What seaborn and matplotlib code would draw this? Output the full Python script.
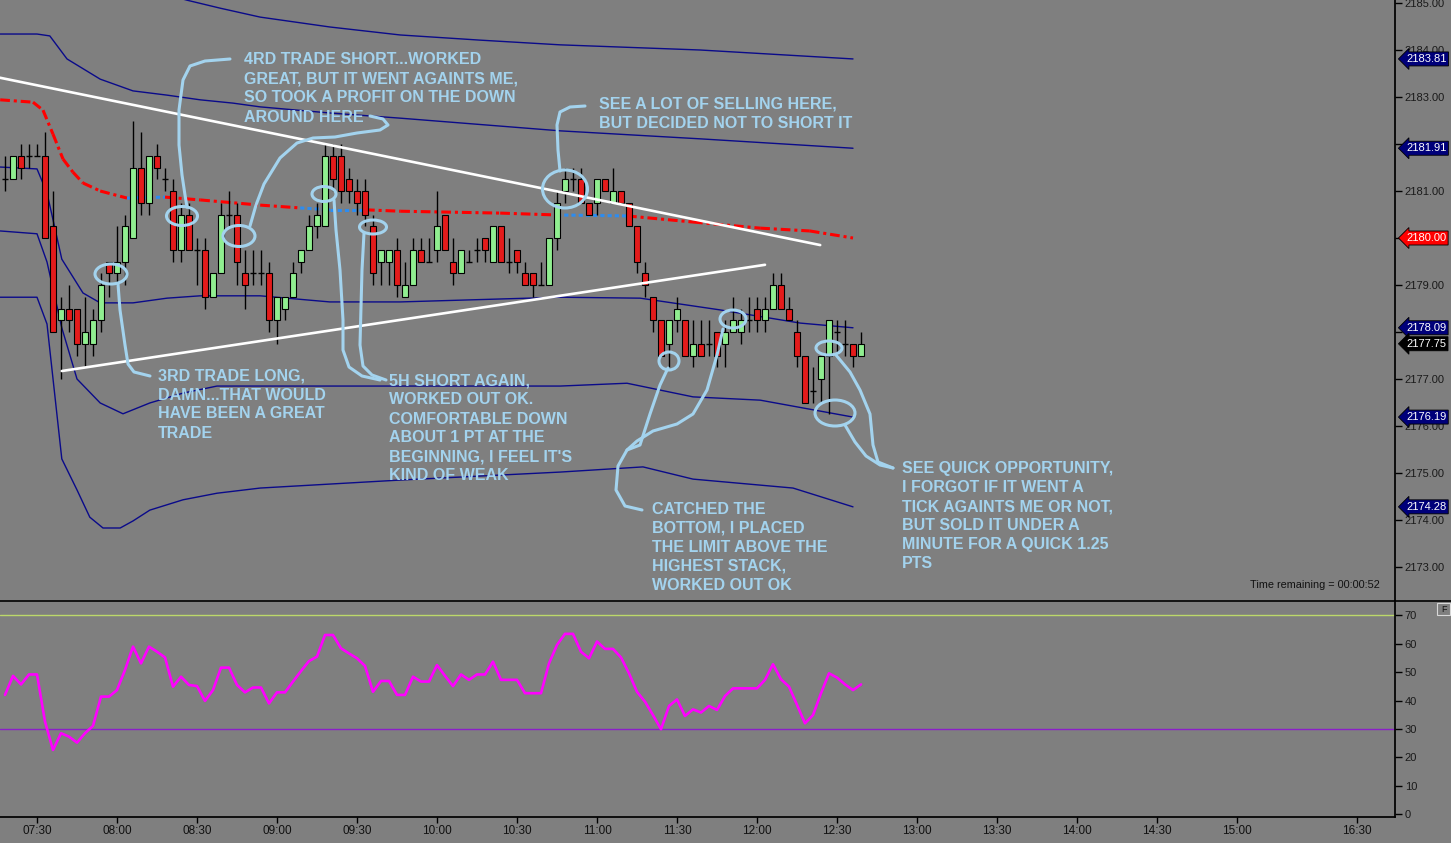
import matplotlib
matplotlib.use("Agg")
import numpy as np
import pandas as pd
import matplotlib.pyplot as plt
import matplotlib.transforms as mtransforms
from matplotlib.patches import Ellipse, Rectangle
import seaborn as sns

# ---------------- data (3-minute bars, bar 0 = 07:18) ----------------
opens = [2181.25, 2181.25, 2181.75, 2181.75, 2181.75, 2181.75, 2180.25, 2178.25, 2178.5, 2178.5,
         2177.75, 2177.75, 2178.25, 2179.5, 2179.25, 2179.5, 2180.0, 2181.5, 2180.75, 2181.75,
         2181.25, 2181.0, 2179.75, 2180.5, 2179.75, 2179.75, 2178.75, 2179.25, 2180.5, 2180.5,
         2179.25, 2179.25, 2179.25, 2179.25, 2178.25, 2178.5, 2178.75, 2179.5, 2179.75, 2180.25,
         2180.25, 2181.75, 2181.75, 2181.25, 2181.0, 2181.0, 2180.25, 2179.5, 2179.5, 2179.75,
         2178.75, 2179.0, 2179.75, 2179.5, 2179.75, 2180.5, 2179.5, 2179.25, 2179.5, 2179.75,
         2180.0, 2179.5, 2180.25, 2179.5, 2179.75, 2179.25, 2179.25, 2179.0, 2179.0, 2180.0,
         2181.0, 2181.25, 2181.25, 2180.75, 2180.75, 2181.25, 2180.75, 2181.0, 2180.75, 2180.25,
         2179.25, 2178.75, 2178.25, 2177.75, 2178.25, 2178.25, 2177.5, 2177.75, 2177.75, 2178.0,
         2177.75, 2178.0, 2178.0, 2178.25, 2178.5, 2178.25, 2178.5, 2179.0, 2178.5, 2178.0,
         2177.5, 2176.75, 2177.0, 2177.5, 2178.0, 2177.75, 2177.75, 2177.5]
highs = [2181.75, 2181.75, 2182.0, 2182.0, 2182.0, 2182.25, 2181.0, 2178.75, 2179.0, 2178.5,
         2178.75, 2178.5, 2179.25, 2179.5, 2180.25, 2180.5, 2182.5, 2182.25, 2181.75, 2182.0,
         2181.5, 2181.25, 2180.75, 2180.75, 2180.0, 2180.0, 2179.25, 2180.75, 2181.0, 2180.75,
         2179.75, 2179.75, 2179.75, 2179.5, 2178.75, 2178.75, 2179.5, 2179.75, 2180.5, 2180.75,
         2182.0, 2182.0, 2182.0, 2181.5, 2181.25, 2181.25, 2180.5, 2179.75, 2179.75, 2180.0,
         2179.5, 2180.0, 2180.0, 2180.0, 2181.0, 2180.5, 2180.0, 2179.75, 2179.75, 2180.0,
         2180.0, 2180.25, 2180.25, 2180.0, 2179.75, 2179.5, 2179.25, 2179.5, 2180.0, 2181.0,
         2181.5, 2181.5, 2181.5, 2180.75, 2181.25, 2181.25, 2181.5, 2181.0, 2180.75, 2180.25,
         2179.5, 2178.75, 2178.25, 2178.25, 2178.75, 2178.25, 2178.25, 2178.25, 2178.25, 2178.0,
         2178.25, 2178.75, 2178.5, 2178.75, 2178.75, 2178.75, 2179.25, 2179.25, 2178.75, 2178.25,
         2177.5, 2177.25, 2177.5, 2178.25, 2178.25, 2178.25, 2177.75, 2178.0]
lows = [2181.0, 2181.25, 2181.25, 2181.5, 2181.75, 2180.0, 2178.0, 2177.0, 2178.0, 2177.5,
        2177.25, 2177.5, 2178.0, 2178.75, 2179.0, 2179.0, 2180.0, 2180.5, 2180.5, 2181.25,
        2181.0, 2179.5, 2179.5, 2179.75, 2179.0, 2178.5, 2178.75, 2179.25, 2180.25, 2179.0,
        2178.5, 2179.0, 2179.0, 2178.0, 2177.75, 2178.25, 2178.75, 2179.25, 2179.75, 2180.0,
        2180.25, 2181.0, 2180.75, 2180.75, 2180.5, 2180.25, 2179.0, 2179.0, 2179.0, 2178.75,
        2178.75, 2179.0, 2179.5, 2179.5, 2179.5, 2179.75, 2179.0, 2179.25, 2179.5, 2179.5,
        2179.5, 2179.5, 2179.5, 2179.25, 2179.25, 2179.0, 2178.75, 2179.0, 2179.0, 2179.75,
        2180.75, 2181.0, 2180.75, 2180.5, 2180.5, 2181.0, 2180.75, 2180.75, 2180.25, 2179.25,
        2178.75, 2178.0, 2177.5, 2177.25, 2178.0, 2177.5, 2177.25, 2177.5, 2177.5, 2177.25,
        2177.25, 2178.0, 2177.75, 2178.0, 2178.0, 2178.0, 2178.5, 2178.5, 2178.25, 2177.25,
        2176.5, 2176.5, 2176.5, 2176.25, 2177.5, 2177.5, 2177.25, 2177.5]
closes = [2181.25, 2181.75, 2181.5, 2181.75, 2181.75, 2180.0, 2178.0, 2178.5, 2178.25, 2177.75,
          2178.0, 2178.25, 2179.0, 2179.25, 2179.5, 2180.25, 2181.5, 2180.75, 2181.75, 2181.5,
          2181.25, 2179.75, 2180.5, 2179.75, 2179.75, 2178.75, 2179.25, 2180.5, 2180.5, 2179.5,
          2179.0, 2179.25, 2179.25, 2178.25, 2178.75, 2178.75, 2179.25, 2179.75, 2180.25, 2180.5,
          2181.75, 2181.25, 2181.0, 2181.0, 2180.75, 2180.5, 2179.25, 2179.75, 2179.75, 2179.0,
          2179.0, 2179.75, 2179.5, 2179.5, 2180.25, 2179.75, 2179.25, 2179.75, 2179.5, 2179.75,
          2179.75, 2180.25, 2179.5, 2179.5, 2179.5, 2179.0, 2179.0, 2179.0, 2180.0, 2180.75,
          2181.25, 2181.25, 2180.75, 2180.5, 2181.25, 2181.0, 2181.0, 2180.75, 2180.25, 2179.5,
          2179.0, 2178.25, 2177.5, 2178.25, 2178.5, 2177.5, 2177.75, 2177.5, 2177.75, 2177.5,
          2178.0, 2178.25, 2178.25, 2178.25, 2178.25, 2178.5, 2179.0, 2178.5, 2178.25, 2177.5,
          2176.5, 2176.75, 2177.5, 2178.25, 2178.0, 2177.75, 2177.5, 2177.75]
rsi = [42.0, 48.7, 45.7, 49.2, 49.2, 32.6, 22.6, 28.5, 27.3, 25.2, 28.5, 31.1, 41.4, 41.4, 43.7,
       50.8, 59.0, 53.1, 59.0, 57.2, 55.2, 44.9, 48.4, 45.5, 45.1, 39.9, 43.7, 51.6, 51.6, 45.5,
       42.9, 44.6, 44.6, 39.0, 42.9, 42.9, 46.7, 50.4, 53.9, 55.5, 63.1, 63.1, 58.4, 56.6, 54.9,
       52.2, 43.1, 46.9, 46.9, 42.0, 42.0, 48.4, 46.7, 46.7, 52.5, 48.7, 45.1, 49.2, 47.3, 49.2,
       49.2, 53.7, 47.3, 47.3, 47.3, 42.6, 42.6, 42.6, 53.1, 59.6, 63.5, 63.5, 57.2, 54.9, 60.8,
       58.2, 58.2, 55.2, 49.6, 43.1, 39.6, 34.9, 29.9, 38.1, 40.4, 34.6, 36.9, 35.8, 38.1, 36.7,
       41.6, 44.3, 44.3, 44.3, 44.3, 47.3, 52.8, 47.5, 44.9, 38.5, 32.0, 34.9, 42.6, 49.6, 48.1,
       45.7, 43.7, 45.7]

# band lines (bar index, price)
band_a_k = [-0.6, 11.9, 18.1, 22.75, 26.9, 31.9, 40.6, 49.4, 59.4, 69.4, 86.9, 106]
band_a_p = [2186.34, 2185.60, 2185.28, 2185.06, 2184.89, 2184.70, 2184.49, 2184.32, 2184.21, 2184.11, 2184.0, 2183.81]
band_b_k = [-0.6, 4, 5.6, 7.75, 11.9, 16, 20.25, 24.4, 28.5, 31.9, 40.6, 49.4, 69.4, 86.9, 106]
band_b_p = [2184.34, 2184.34, 2184.30, 2183.81, 2183.38, 2183.13, 2183.04, 2182.94, 2182.87, 2182.79, 2182.66, 2182.55, 2182.28, 2182.11, 2181.91]
band_c_k = [-0.6, 4, 5.25, 7.1, 9.75, 11.9, 16, 20.25, 24.4, 31.9, 40.6, 49.4, 69.4, 79.4, 89.4, 99.4, 106]
band_c_p = [2181.51, 2181.47, 2180.96, 2179.55, 2178.83, 2178.62, 2178.62, 2178.72, 2178.77, 2178.77, 2178.64, 2178.64, 2178.74, 2178.72, 2178.47, 2178.19, 2178.09]
band_d_k = [-0.6, 4, 5.25, 7.1, 9, 11.9, 14.75, 18.1, 22.25, 26.5, 31.9, 49.4, 69.4, 77.75, 86, 94.4, 106]
band_d_p = [2180.15, 2180.09, 2179.49, 2178.09, 2177.0, 2176.49, 2176.26, 2176.49, 2176.70, 2176.85, 2176.85, 2176.85, 2176.85, 2176.91, 2176.62, 2176.55, 2176.19]
band_e_k = [-0.6, 4, 5.25, 7.1, 9, 10.6, 12.25, 14.4, 16, 18.1, 22.25, 26.5, 31.9, 49.4, 69.4, 79.75, 86, 98.5, 106]
band_e_p = [2178.74, 2178.74, 2178.17, 2175.30, 2174.64, 2174.06, 2173.83, 2173.83, 2173.98, 2174.21, 2174.43, 2174.57, 2174.68, 2174.85, 2175.02, 2175.13, 2174.87, 2174.68, 2174.28]

ma_k = [-0.6, 3.5, 4.75, 6, 7.25, 8.5, 9.75, 11.9, 15.25, 20, 24.4, 31.9, 36.9, 40.6, 45, 49.4, 61.9, 69, 77.75, 86, 94.4, 100.6, 106]
ma_p = [2182.94, 2182.89, 2182.72, 2182.21, 2181.68, 2181.40, 2181.17, 2181.0, 2180.85, 2180.87, 2180.81, 2180.70, 2180.64, 2180.60, 2180.60, 2180.57, 2180.53, 2180.49, 2180.47, 2180.34, 2180.21, 2180.15, 2180.0]
ma_blue_spans = [(15.25, 20), (36.9, 45), (69, 77.75)]

trend_upper_k = [-0.625, 101.9]
trend_upper_p = [2183.41, 2179.85]
trend_lower_k = [7.1, 95]
trend_lower_p = [2177.17, 2179.43]

flag_values = [2183.81, 2181.91, 2180.00, 2178.09, 2177.75, 2176.19, 2174.28]
flag_colors = ['#00007a', '#00007a', '#ff0000', '#00007a', '#000000', '#00007a', '#00007a']

price_ticks = [2173, 2174, 2175, 2176, 2177, 2178, 2179, 2180, 2181, 2182, 2183, 2184, 2185]
price_hidden = [2178, 2180, 2182]   # fully covered by the price flags

time_labels = ['07:30', '08:00', '08:30', '09:00', '09:30', '10:00', '10:30', '11:00', '11:30',
               '12:00', '12:30', '13:00', '13:30', '14:00', '14:30', '15:00', '16:30']
time_ticks = [4 + 10 * i for i in range(16)] + [169]

notes = [
    (244, 60, ["4RD TRADE SHORT...WORKED", "GREAT, BUT IT WENT AGAINTS ME,",
               "SO TOOK A PROFIT ON THE DOWN", "AROUND HERE"]),
    (599, 104, ["SEE A LOT OF SELLING HERE,", "BUT DECIDED NOT TO SHORT IT"]),
    (158, 376, ["3RD TRADE LONG,", "DAMN...THAT WOULD", "HAVE BEEN A GREAT", "TRADE"]),
    (389, 381, ["5H SHORT AGAIN,", "WORKED OUT OK.", "COMFORTABLE DOWN", "ABOUT 1 PT AT THE",
                "BEGINNING, I FEEL IT'S", "KIND OF WEAK"]),
    (652, 509, ["CATCHED THE", "BOTTOM, I PLACED", "THE LIMIT ABOVE THE", "HIGHEST STACK,",
                "WORKED OUT OK"]),
    (902, 469, ["SEE QUICK OPPORTUNITY,", "I FORGOT IF IT WENT A", "TICK AGAINTS ME OR NOT,",
                "BUT SOLD IT UNDER A", "MINUTE FOR A QUICK 1.25", "PTS"]),
]
# freehand strokes (pixel coordinates of the drawing layer)
strokes = [
    [(230, 59), (205, 61), (190, 66), (183, 80), (179, 110), (179, 145), (182, 175), (185, 195), (187, 207)],
    [(250, 226), (256, 205), (264, 184), (280, 158), (297, 143), (313, 138), (335, 137), (357, 133),
     (380, 130), (388, 125), (383, 119), (370, 116)],
    [(118, 284), (120, 310), (125, 345), (128, 364), (134, 372), (150, 376)],
    [(334, 200), (336, 230), (340, 270), (343, 320), (343, 350), (349, 367), (362, 376), (380, 380)],
    [(364, 233), (362, 270), (361, 307), (360, 345), (363, 366), (372, 375), (386, 380)],
    [(560, 171), (558, 150), (557, 125), (560, 112), (570, 107), (585, 106)],
    [(668, 368), (660, 385), (650, 414), (640, 445), (627, 450), (618, 466), (616, 490), (625, 506), (642, 510)],
    [(723, 329), (717, 355), (707, 390), (693, 414), (677, 424), (653, 431), (637, 441), (627, 450)],
    [(836, 355), (850, 372), (860, 390), (870, 414), (873, 445), (878, 462), (893, 468)],
    [(845, 425), (855, 442), (866, 456), (880, 465), (893, 468)],
]
loops = [(182, 216, 31, 19), (239, 236, 32, 21), (111, 274, 32, 20), (324, 194, 24, 15),
         (373, 227, 27, 14), (565, 189, 45, 38), (669, 361, 20, 18), (733, 319, 26, 18),
         (829, 348, 26, 14), (835, 413, 40, 26)]

# ---------------- style ----------------
BG = '#7f7f7f'
TXT = '#a3d3ee'
NAVY = '#0a0a8a'
sns.set_theme(style="ticks", rc={"axes.facecolor": BG, "figure.facecolor": BG,
                                 "axes.edgecolor": "black", "lines.scale_dashes": False})
plt.rcParams['font.family'] = ['Liberation Sans', 'DejaVu Sans']
plt.rcParams['lines.scale_dashes'] = False

W, H = 1451, 843
fig = plt.figure(figsize=(W / 100, H / 100), dpi=100, facecolor=BG)
ax = fig.add_axes([0, 1 - 600 / H, 1395 / W, 600 / H])
ax2 = fig.add_axes([0, 1 - 817 / H, 1395 / W, (817 - 601) / H])
for a in (ax, ax2):
    a.set_facecolor(BG)
    a.spines['top'].set_visible(False)
    a.spines['left'].set_visible(False)
    a.spines['right'].set_color('black')
    a.spines['bottom'].set_color('black')
    a.set_xlim(-0.625, 173.75)

ax.set_ylim(2172.298, 2185.064)
ax2.set_ylim(-1.0, 75.07)

# bands
for kk, pp in [(band_a_k, band_a_p), (band_b_k, band_b_p), (band_c_k, band_c_p),
               (band_d_k, band_d_p), (band_e_k, band_e_p)]:
    sns.lineplot(x=kk, y=pp, ax=ax, color=NAVY, lw=1.0, estimator=None, sort=False, zorder=1)

# moving average: red dash-dot with blue dotted stretches
for i in range(len(ma_k) - 1):
    seg_k = ma_k[i:i + 2]
    seg_p = ma_p[i:i + 2]
    blue = any(s <= seg_k[0] and seg_k[1] <= e for s, e in ma_blue_spans)
    if blue:
        sns.lineplot(x=seg_k, y=seg_p, ax=ax, color='#2d8cf0', lw=2.2, estimator=None,
                     linestyle=(0, (3, 2.2)), zorder=2)
    else:
        sns.lineplot(x=seg_k, y=seg_p, ax=ax, color='#ff0000', lw=2.2, estimator=None,
                     linestyle=(0, (7, 2.8, 2.2, 2.8)), zorder=2)

# candles
df = pd.DataFrame({"o": opens, "h": highs, "l": lows, "c": closes})
df["k"] = np.arange(len(df))
ax.vlines(df.k, df.l, df.h, color='black', lw=1.0, zorder=3)
up = df[df.c > df.o]
dn = df[df.c < df.o]
dj = df[df.c == df.o]
ax.bar(up.k, up.c - up.o, bottom=up.o, width=0.72, color='#90ee90', edgecolor='black', lw=0.8, zorder=4)
ax.bar(dn.k, dn.o - dn.c, bottom=dn.c, width=0.72, color='#e41b1b', edgecolor='black', lw=0.8, zorder=4)
ax.hlines(dj.o, dj.k - 0.4, dj.k + 0.4, color='black', lw=1.0, zorder=4)

# trend lines
sns.lineplot(x=trend_upper_k, y=trend_upper_p, ax=ax, color='white', lw=1.9, estimator=None, zorder=5)
sns.lineplot(x=trend_lower_k, y=trend_lower_p, ax=ax, color='white', lw=1.9, estimator=None, zorder=5)

# price axis
ax.set_yticks(price_ticks)
ax.set_yticklabels(['' if t in price_hidden else f"{t:.2f}" for t in price_ticks])
ax.tick_params(axis='y', left=False, right=True, labelleft=False, labelright=True,
               direction='out', length=5, width=1, color='black', labelsize=8, labelcolor='#1a1a1a', pad=2)
ax.tick_params(axis='x', bottom=False, labelbottom=False)
ax.set_xlabel('')
ax.set_ylabel('')
ax.spines['bottom'].set_visible(False)

trans = mtransforms.blended_transform_factory(ax.transAxes, ax.transData)
for v, c in zip(flag_values, flag_colors):
    ax.text(1406 / 1395, v, f"{v:.2f}", transform=trans, ha='left', va='center', color='white',
            fontsize=8, clip_on=False, zorder=10,
            bbox=dict(boxstyle='larrow,pad=0.18', fc=c, ec='black', lw=0.6))

ax.text(1380 / 1395, (600 - 585) / 600, "Time remaining = 00:00:52", transform=ax.transAxes,
        ha='right', va='center', fontsize=7.8, color='#111111')

# RSI panel
sns.lineplot(x=np.arange(len(rsi)), y=rsi, ax=ax2, color='#ff00ff', lw=1.9, estimator=None, zorder=3)
ax2.axhline(70, color='#bcd86a', lw=1.0, zorder=2)
ax2.axhline(30, color='#8a1fc8', lw=1.0, zorder=2)
ax2.set_yticks(np.arange(0, 71, 10))
ax2.tick_params(axis='y', left=False, right=True, labelleft=False, labelright=True,
                direction='out', length=5, width=1, color='black', labelsize=8, labelcolor='#1a1a1a', pad=2)
ax2.set_xticks(time_ticks)
ax2.set_xticklabels(time_labels)
ax2.tick_params(axis='x', direction='out', length=4, width=1, color='black', labelsize=8.5,
                labelcolor='#111111', pad=2)
ax2.set_xlabel('')
ax2.set_ylabel('')

# drawing layer
ov = fig.add_axes([0, 0, 1, 1], zorder=20)
ov.set_xlim(0, W)
ov.set_ylim(H, 0)
ov.axis('off')
ov.patch.set_alpha(0)
ov.plot([0, W], [600.5, 600.5], color='black', lw=1.2)
ov.add_patch(Rectangle((1437, 603), 13, 12, fc=BG, ec='#d8d8d8', lw=0.8))
ov.text(1443.5, 609, "F", ha='center', va='center', fontsize=6.5, color='#111111')
for pts in strokes:
    xs, ys = zip(*pts)
    ov.plot(xs, ys, color=TXT, lw=2.2, solid_capstyle='round', solid_joinstyle='round')
for (cx, cy, w, h) in loops:
    ov.add_patch(Ellipse((cx, cy), w, h, fill=False, ec=TXT, lw=2.2))
for (x0, y0, lines) in notes:
    for i, line in enumerate(lines):
        ov.text(x0, y0 + 19 * i, line, ha='left', va='center', color=TXT,
                fontsize=11.5, fontweight='bold')

fig.savefig('out.png', dpi=100, facecolor=BG)
